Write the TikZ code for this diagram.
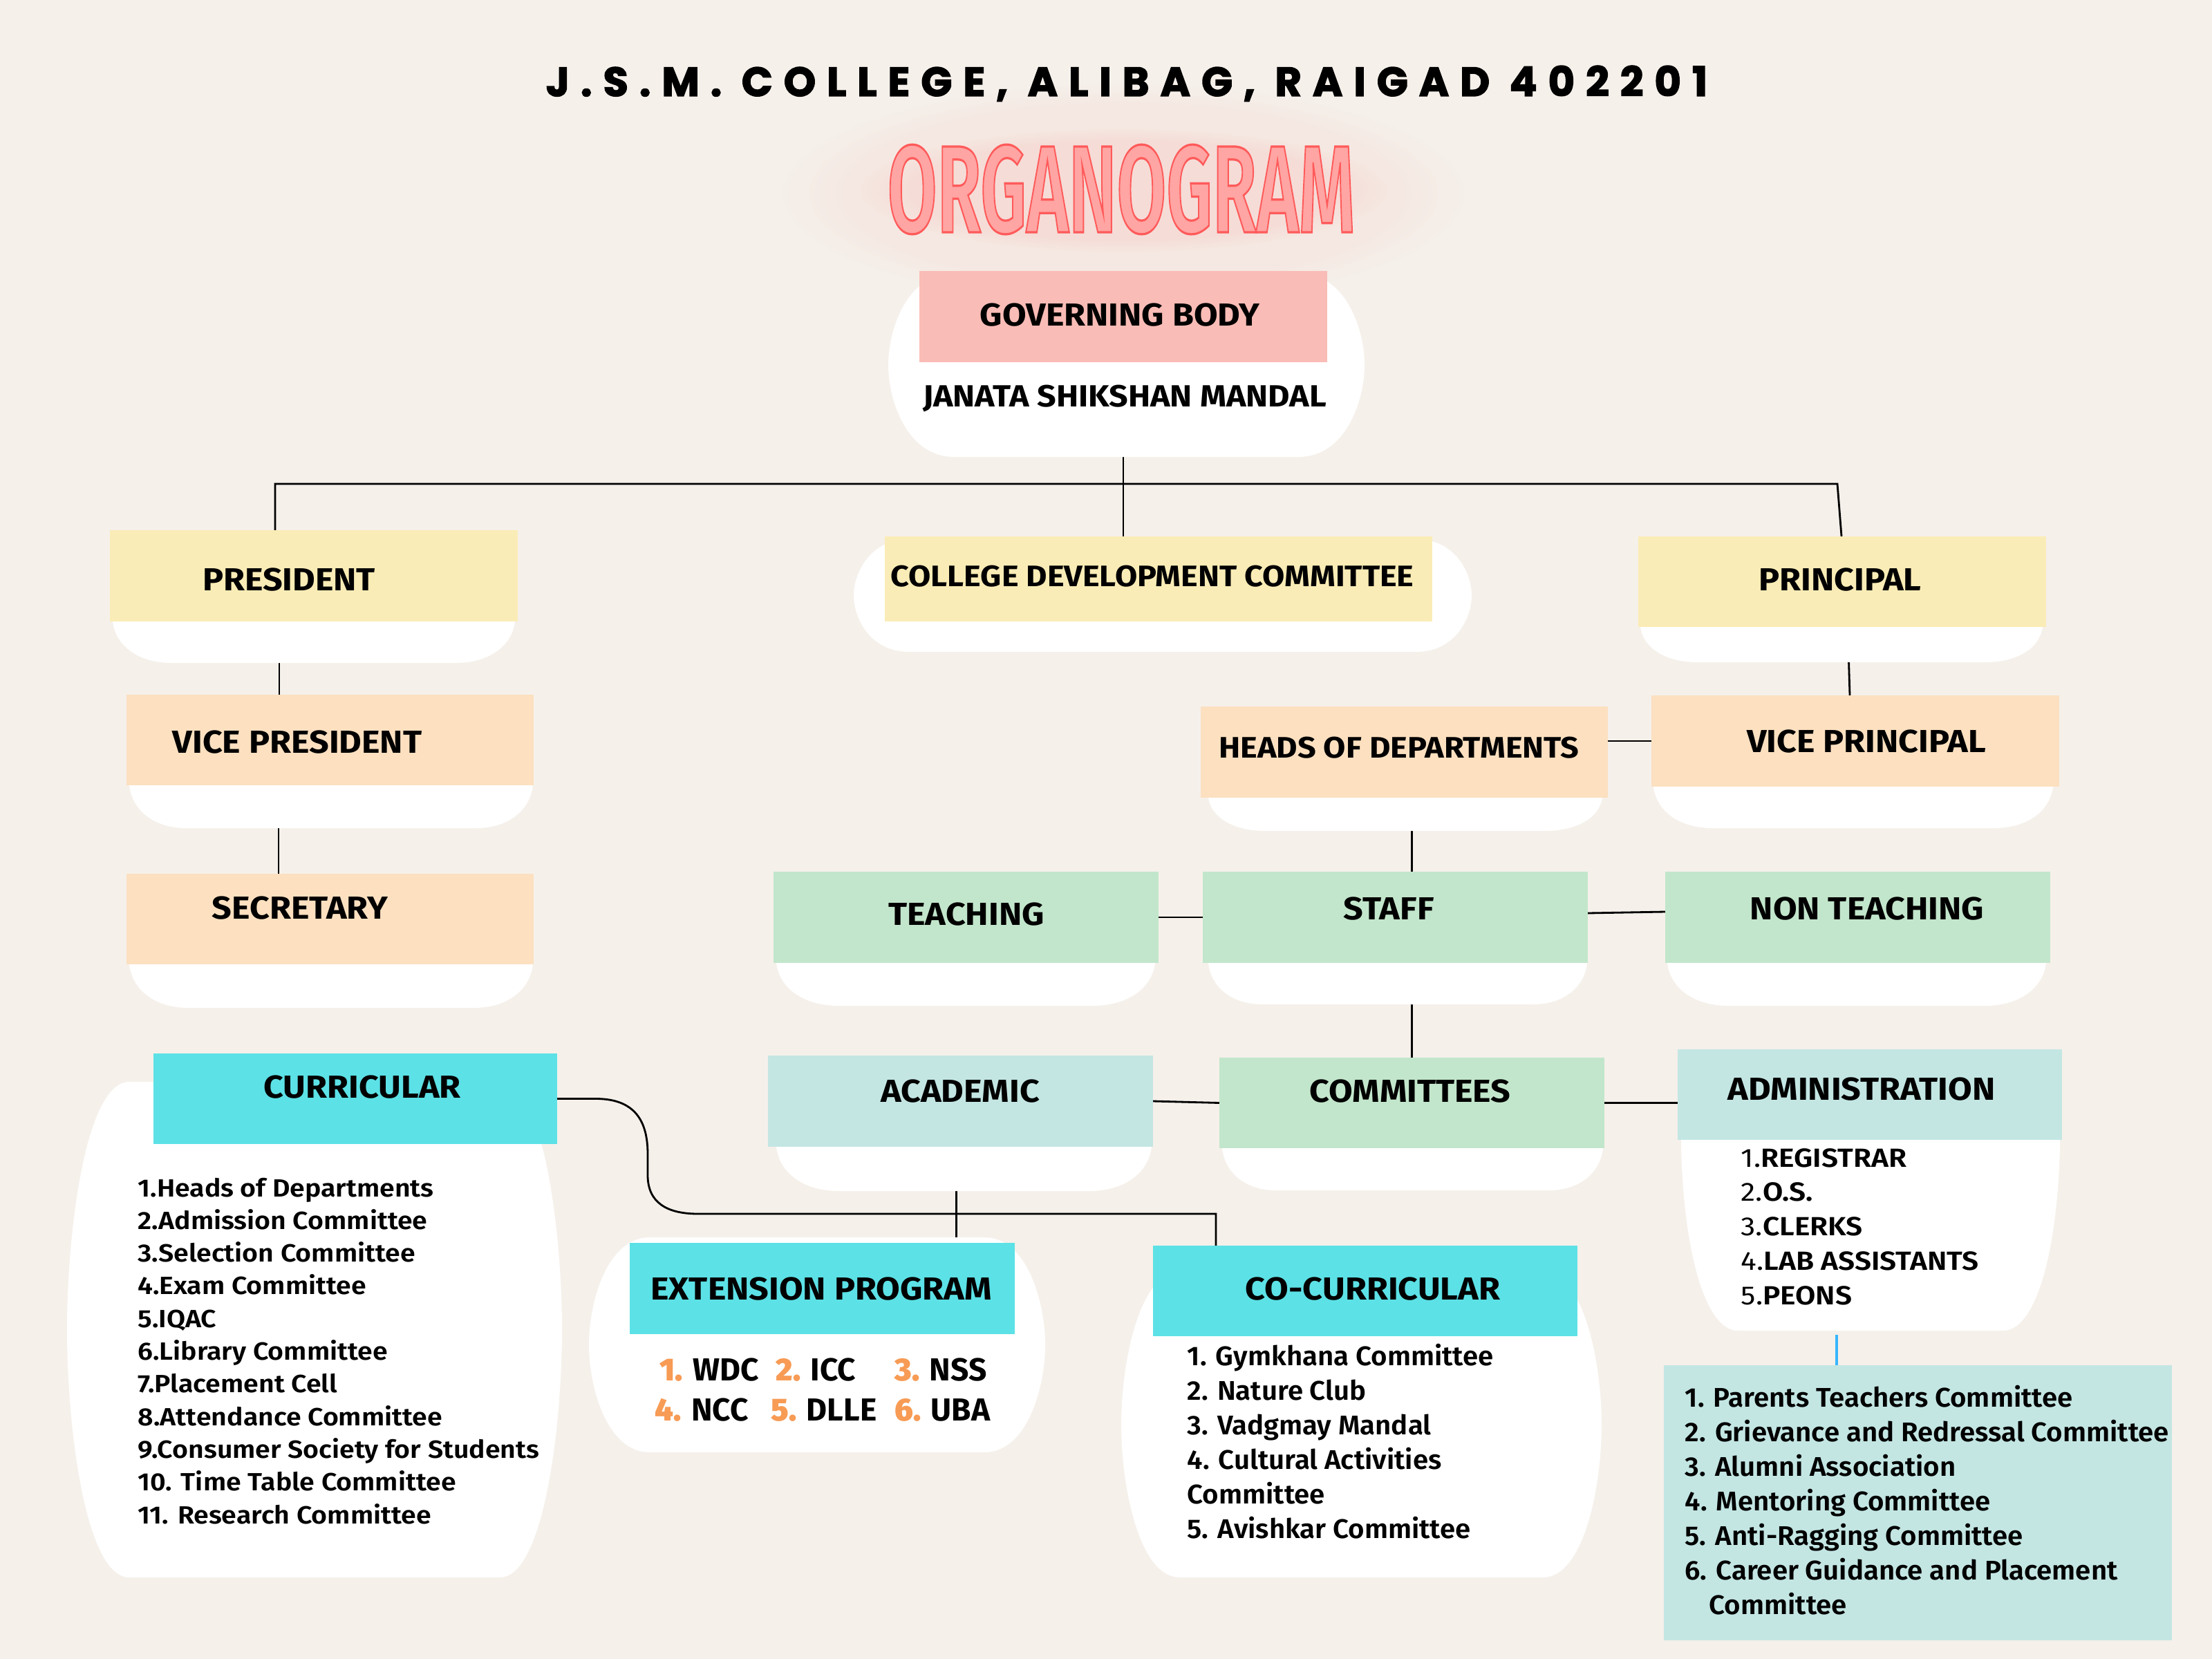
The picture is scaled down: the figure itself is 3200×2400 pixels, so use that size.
\documentclass[tikz,border=0pt]{standalone}
\usepackage{fontspec}
\usepackage{graphicx}
\setmainfont{Fira Sans}
\newfontfamily\titlefont{Poppins}[LetterSpace=27,FakeBold=2.4]
\newfontfamily\lblf{Fira Sans}[FakeStretch=1.09]
\newfontfamily\semiw{Fira Sans SemiBold}[FakeStretch=1.09]
\newfontfamily\semic{Fira Sans SemiBold}[FakeStretch=1.03]
\newfontfamily\semia{Fira Sans SemiBold}[FakeStretch=1.12]
\newfontfamily\rega{Fira Sans}[FakeStretch=1.12]
\newfontfamily\semib{Fira Sans SemiBold}
\newfontfamily\orgfont{Fira Sans SemiBold}[FakeBold=1.8]
\usetikzlibrary{calc,fadings}
\definecolor{bgc}{RGB}{245,240,234}
\definecolor{cpink}{RGB}{250,188,182}
\definecolor{cyel}{RGB}{250,236,182}
\definecolor{cpeach}{RGB}{252,224,192}
\definecolor{cgreen}{RGB}{194,230,203}
\definecolor{cteal}{RGB}{195,230,227}
\definecolor{ccyan}{RGB}{92,225,230}
\definecolor{corange}{RGB}{247,155,85}
\definecolor{cblue}{RGB}{56,182,255}
\definecolor{orgfill}{RGB}{255,165,163}
\definecolor{orgglow}{RGB}{255,90,90}
\pgfdeclarelayer{bglayer}
\pgfdeclarelayer{connlayer}
\pgfdeclarelayer{bloblayer}
\pgfsetlayers{bglayer,connlayer,bloblayer,main}
\newcommand\rbox[6]{\node[rboxst, fill=#6, minimum width={(#4-#2)*0.01cm}, minimum height={(#5-#3)*0.01cm}] (#1) at ({(#2+#4)/2},{(#3+#5)/2}) {};}
% U-shaped white blob: x1 x2 ys yb c
\newcommand\ublob[5]{\fill[white] (#1,{#3-50}) -- (#2,{#3-50}) -- (#2,#3)
  .. controls ({#2-0.05*#5},{#3+0.6*(#4-#3)}) and ({#2-0.45*#5},#4) .. ({#2-#5},#4)
  -- ({#1+#5},#4)
  .. controls ({#1+0.45*#5},#4) and ({#1+0.05*#5},{#3+0.6*(#4-#3)}) .. (#1,#3) -- cycle;}
% barrel white blob: x1 x2 yt yb c
\newcommand\bblob[5]{\fill[white] (#1,{(#3+#4)/2})
  .. controls (#1,{#3+0.3*(#4-#3)}) and ({#1+0.3*#5},#3) .. ({#1+#5},#3)
  -- ({#2-#5},#3)
  .. controls ({#2-0.3*#5},#3) and (#2,{#3+0.3*(#4-#3)}) .. (#2,{(#3+#4)/2})
  .. controls (#2,{#4-0.3*(#4-#3)}) and ({#2-0.3*#5},#4) .. ({#2-#5},#4)
  -- ({#1+#5},#4)
  .. controls ({#1+0.3*#5},#4) and (#1,{#4-0.3*(#4-#3)}) .. (#1,{(#3+#4)/2}) -- cycle;}
\newcommand\orgtext{\scalebox{0.58}[1]{ORGANOGRAM}}
\begin{document}
\begin{tikzpicture}[x=0.01cm,y=-0.01cm,
  rboxst/.style={inner sep=0pt,outer sep=0pt,draw=none},
  lbl/.style={inner sep=0pt,font=\lblf\fontsize{13.1}{15}\selectfont\bfseries},
  lbls/.style={inner sep=0pt,font=\lblf\fontsize{12.2}{14}\selectfont\bfseries},
  lblm/.style={inner sep=0pt,font=\lblf\fontsize{12.6}{14}\selectfont\bfseries},
  itm/.style={inner sep=0pt,anchor=base west,font=\fontsize{10.24}{12}\selectfont\semiw},
  itmb/.style={inner sep=0pt,anchor=base west,font=\fontsize{11.1}{13}\selectfont\semic},
  itma/.style={inner sep=0pt,anchor=base west,font=\fontsize{10.8}{13}\selectfont\rega},
  itme/.style={inner sep=0pt,anchor=base west,font=\fontsize{13.1}{15}\selectfont\bfseries},
  orgf/.style={inner sep=0pt,font=\orgfont\fontsize{51}{51}\selectfont},
  conn/.style={line width=0.8pt,black},
]
\begin{pgfonlayer}{bglayer}
\fill[bgc] (0,0) rectangle (3200,2400);
\fill[orgglow,opacity=0.05,path fading=circle with fuzzy edge 20 percent] (1130,120) rectangle (2120,440);
\fill[orgglow,opacity=0.08,path fading=circle with fuzzy edge 20 percent] (1240,185) rectangle (2010,365);
\end{pgfonlayer}
\useasboundingbox (0,0) rectangle (3200,2400);

% title
\node[anchor=base,inner sep=0pt,font=\titlefont\fontsize{16.8}{20}\selectfont\bfseries] (title) at (1630,139) {J.S.M. COLLEGE, ALIBAG, RAIGAD 402201};

% organogram: pink fill, red stroked edge
\node[orgf,text=orgfill] (orgm) at (1622,274) {\pgfsetstrokecolor{orgglow}\orgtext};

% coloured boxes
\rbox{gb}{1330}{392}{1920}{524}{cpink}
\rbox{pres}{159}{767}{749}{899}{cyel}
\rbox{cdc}{1280}{776}{2072}{899}{cyel}
\rbox{prin}{2370}{776}{2960}{907}{cyel}
\rbox{vp}{183}{1005}{772}{1136}{cpeach}
\rbox{sec}{183}{1264}{772}{1395}{cpeach}
\rbox{hod}{1737}{1022}{2326}{1154}{cpeach}
\rbox{vprin}{2389}{1006}{2979}{1138}{cpeach}
\rbox{teach}{1119}{1261}{1676}{1393}{cgreen}
\rbox{staff}{1740}{1261}{2297}{1393}{cgreen}
\rbox{nont}{2409}{1261}{2966}{1393}{cgreen}
\rbox{acad}{1111}{1527}{1668}{1659}{cteal}
\rbox{comm}{1764}{1530}{2321}{1661}{cgreen}
\rbox{admin}{2427}{1518}{2983}{1649}{cteal}
\rbox{curr}{222}{1524}{806}{1655}{ccyan}
\rbox{ext}{911}{1798}{1468}{1930}{ccyan}
\rbox{cocu}{1668}{1802}{2282}{1933}{ccyan}
\rbox{clist}{2407}{1975}{3142}{2373}{cteal}

% white blobs
\begin{pgfonlayer}{bloblayer}
\bblob{1285}{1974}{395}{661}{95}
\ublob{163}{745}{899}{959}{85}
\bblob{1235}{2129}{780}{943}{80}
\ublob{2373}{2955}{907}{958}{82}
\ublob{187}{771}{1136}{1198}{82}
\ublob{187}{771}{1395}{1458}{85}
\ublob{1748}{2318}{1154}{1202}{82}
\ublob{2392}{2970}{1138}{1198}{85}
\ublob{1123}{1671}{1393}{1455}{90}
\ublob{1748}{2296}{1393}{1453}{78}
\ublob{2412}{2960}{1393}{1455}{88}
\ublob{1123}{1666}{1659}{1723}{90}
\ublob{1768}{2319}{1661}{1722}{78}
\ublob{2432}{2980}{1660}{1925}{82}
\bblob{97}{813}{1565}{2282}{90}
\bblob{852}{1512}{1790}{2101}{88}
\bblob{1622}{2317}{1840}{2282}{85}
\end{pgfonlayer}

% connectors
\begin{pgfonlayer}{connlayer}
\draw[conn] (gb.south) -- (gb.south |- cdc.north);
\coordinate (busL) at (398,700);
\coordinate (busR) at (2658,700);
\draw[conn] (busL |- pres.north) -- (busL) -- (busR) -- ($(prin.north west)+(294,0)$);
\draw[conn] ($(pres.south west)+(245,0)$) -- ($(vp.north west)+(221,0)$);
\draw[conn] ($(vp.south west)+(220,0)$) -- ($(sec.north west)+(220,0)$);
\draw[conn] ($(prin.south west)+(303,0)$) -- ($(vprin.north west)+(287,0)$);
\draw[conn] (vprin.west -| hod.east) -- (vprin.west);
\draw[conn] (comm.north |- hod.south) -- (comm.north |- staff.north);
\draw[conn] (comm.north |- staff.south) -- (comm.north);
\draw[conn] (teach.east) -- (staff.west);
\draw[conn] ($(staff.east)+(0,-6)$) -- ($(nont.west)+(0,-8)$);
\draw[conn] (acad.east) -- (comm.west);
\draw[conn] (comm.east) -- (comm.east -| admin.west);
\coordinate (ae) at ($(acad.south)+(-6,0)$);
\draw[conn] (ae) -- (ae |- ext.north);
\coordinate (cc) at ($(cocu.north west)+(91,0)$);
\draw[conn] (curr.east) -- (862,1589.5) .. controls (925,1589.5) and (937,1630) .. (937,1670) -- (937,1700) .. controls (937,1740) and (965,1756) .. (1010,1756) -- (cc |- 0,1756) -- (cc);
\coordinate (bl) at ($(clist.north west)+(250,0)$);
\draw[cblue,line width=1pt] (bl) -- ++(0,-44);
\end{pgfonlayer}

% labels
\node[lbl] (tgb) at (1620,456) {GOVERNING BODY};
\node[lblm] (tjsm) at (1627,577) {JANATA SHIKSHAN MANDAL};
\node[lbl] (tpres) at (418,839) {PRESIDENT};
\node[lbl] (tvp) at (430,1074) {VICE PRESIDENT};
\node[lbl] (tsec) at (434,1314) {SECRETARY};
\node[lbls] (tcdc) at (1667,834) {COLLEGE DEVELOPMENT COMMITTEE};
\node[lbl] (tprin) at (2662,839) {PRINCIPAL};
\node[lbl] (tvprin) at (2700,1073) {VICE PRINCIPAL};
\node[lbls] (thod) at (2024,1082) {HEADS OF DEPARTMENTS};
\node[lbl] (tteach) at (1398,1323) {TEACHING};
\node[lbl] (tstaff) at (2009,1315) {STAFF};
\node[lbl] (tnont) at (2701,1315) {NON TEACHING};
\node[lbl] (tacad) at (1389,1579) {ACADEMIC};
\node[lbl] (tcomm) at (2040,1579) {COMMITTEES};
\node[lbl] (tadmin) at (2693,1576) {ADMINISTRATION};
\node[lbl] (tcurr) at (524,1573) {CURRICULAR};
\node[lbl] (texp) at (1188,1865) {EXTENSION PROGRAM};
\node[lbl] (tcocu) at (1986,1865) {CO-CURRICULAR};

% curricular list
\foreach \t [count=\i] in {1.Heads of Departments,2.Admission Committee,3.Selection Committee,4.Exam Committee,5.IQAC,6.Library Committee,7.Placement Cell,8.Attendance Committee,9.Consumer Society for Students,10. Time Table Committee,11. Research Committee}
  \node[itm] (cu\i) at (199,{1731+47.3*(\i-1)}) {\t};

% administration list
\foreach \t [count=\i] in {REGISTRAR,O.S.,CLERKS,LAB ASSISTANTS,PEONS}
  \node[itma] (ad\i) at (2518,{1688+49.75*(\i-1)}) {\i.{\semia\t}};

% committees list
\foreach \t [count=\i] in {Parents Teachers Committee,Grievance and Redressal Committee,Alumni Association,Mentoring Committee,Anti-Ragging Committee,Career Guidance and Placement}
  \node[itmb] (co\i) at (2437,{2035+50.1*(\i-1)}) {\i. \t};
\node[itmb] (co7) at (2472,{2035+50.1*6}) {Committee};

% co-curricular list
\node[itmb] (cc1) at (1717,1975) {1. Gymkhana Committee};
\node[itmb] (cc2) at (1717,2025) {2. Nature Club};
\node[itmb] (cc3) at (1717,2075) {3. Vadgmay Mandal};
\node[itmb] (cc4) at (1717,2125) {4. Cultural Activities};
\node[itmb] (cc5) at (1717,2175) {Committee};
\node[itmb] (cc6) at (1717,2225) {5. Avishkar Committee};

% extension programs
\node[itme] (ex1) at (954,1997) {{\semib\color{corange}1.} WDC};
\node[itme] (ex2) at (1122,1997) {{\semib\color{corange}2.} ICC};
\node[itme] (ex3) at (1294,1997) {{\semib\color{corange}3.} NSS};
\node[itme] (ex4) at (947,2055) {{\semib\color{corange}4.} NCC};
\node[itme] (ex5) at (1115,2055) {{\semib\color{corange}5.} DLLE};
\node[itme] (ex6) at (1294,2055) {{\semib\color{corange}6.} UBA};
\end{tikzpicture}
\end{document}
